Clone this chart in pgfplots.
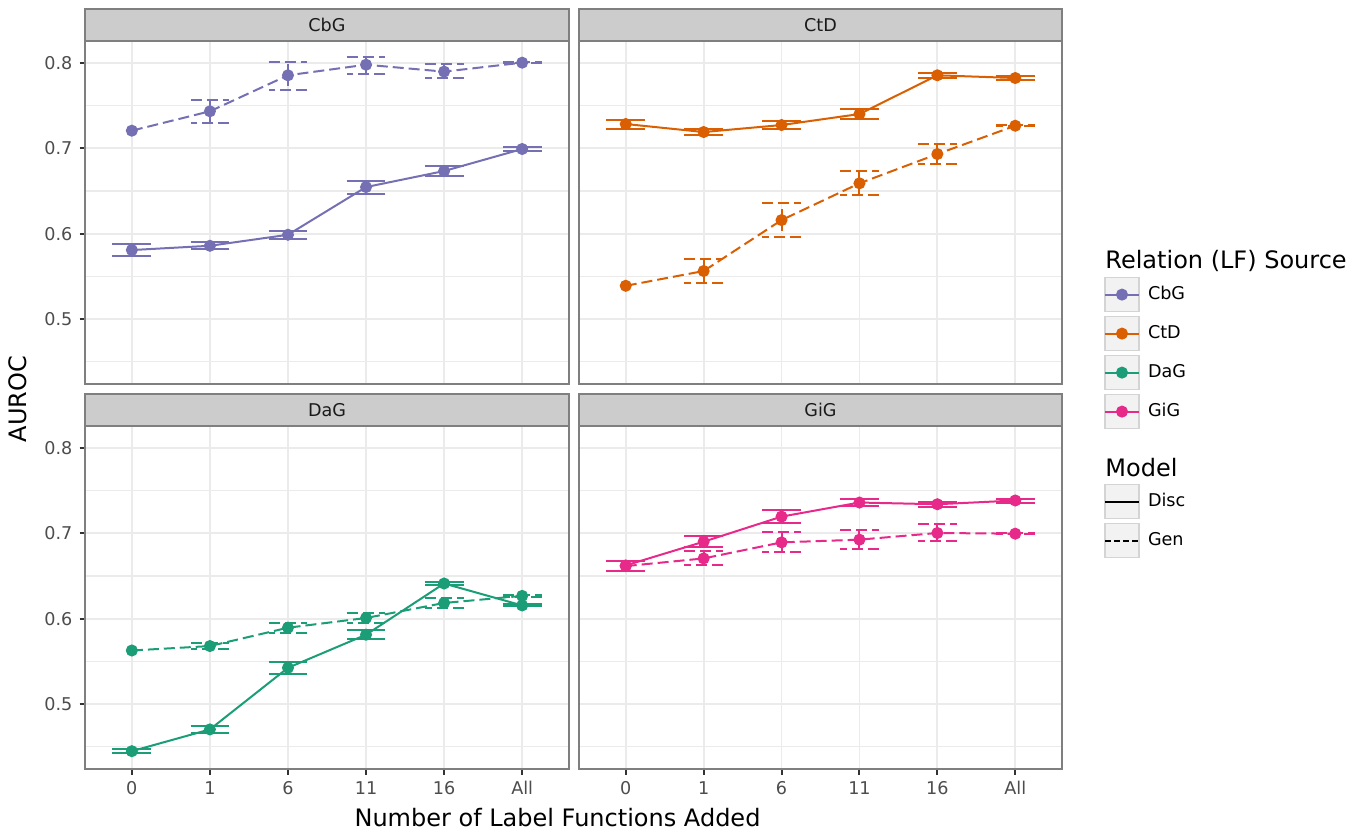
\documentclass[border=0pt]{standalone}
\usepackage{pgfplots}
\pgfplotsset{compat=1.18}
\usepackage{fontspec}
\setmainfont{DejaVu Sans}
\definecolor{cbg}{HTML}{7570B3}
\definecolor{ctd}{HTML}{D95F02}
\definecolor{dag}{HTML}{1B9E77}
\definecolor{gig}{HTML}{E7298A}
\definecolor{bordergray}{HTML}{7F7F7F}
\definecolor{stripgray}{HTML}{CCCCCC}
\definecolor{gridgray}{HTML}{EBEBEB}
\definecolor{ticklab}{HTML}{4D4D4D}
\definecolor{tickcol}{HTML}{333333}
\definecolor{keyfill}{HTML}{F2F2F2}
\definecolor{keyborder}{HTML}{D4D4D4}
\definecolor{striptext}{HTML}{1A1A1A}

\pgfplotsset{
  panel/.style={
    scale only axis, width=242pt, height=171.5pt,
    anchor=north west,
    xmin=0.4, xmax=6.6, ymin=0.4238, ymax=0.8258,
    xtick={1,2,3,4,5,6}, xticklabels={0,1,6,11,16,All},
    ytick={0.5,0.6,0.7,0.8},
    minor ytick={0.45,0.55,0.65,0.75},
    yticklabel style={/pgf/number format/fixed, /pgf/number format/precision=1},
    /pgf/number format/assume math mode=true,
    xmajorgrids, ymajorgrids, yminorgrids,
    major grid style={draw=gridgray, line width=0.9pt},
    minor grid style={draw=gridgray, line width=0.55pt},
    axis line style={draw=bordergray, line width=1pt},
    tick align=outside, major tick length=2.75pt, minor tick length=0pt,
    tick style={draw=tickcol, line width=1pt},
    xtick pos=bottom, ytick pos=left,
    tick label style={font=\fontsize{8.8}{10}\selectfont, text=ticklab},
    clip=false,
    legend cell align=left,
  },
  notx/.style={xticklabels={}, xtick style={draw=none}},
  noty/.style={yticklabels={}, ytick style={draw=none}},
  disc/.style={draw=#1, line width=1pt, solid, mark=*, mark size=2.5pt,
    mark options={solid, draw=none, fill=#1}},
  gen/.style={draw=#1, line width=1pt, dash pattern=on 5.5pt off 2.5pt, mark=*, mark size=2.5pt,
    mark options={solid, draw=none, fill=#1}},
  discerr/.style={draw=none, mark=none,
    /pgfplots/error bars/y dir=both, /pgfplots/error bars/y explicit, /pgfplots/error bars/error mark=|,
    /pgfplots/error bars/error bar style={draw=#1, line width=1pt, solid},
    /pgfplots/error bars/error mark options={draw=#1, line width=1pt, solid, mark size=9.7pt}},
  generr/.style={draw=none, mark=none,
    /pgfplots/error bars/y dir=both, /pgfplots/error bars/y explicit, /pgfplots/error bars/error mark=|,
    /pgfplots/error bars/error bar style={draw=#1, line width=1pt, dash pattern=on 5.5pt off 2.5pt},
    /pgfplots/error bars/error mark options={draw=#1, line width=1pt, dash pattern=on 5.5pt off 2.5pt, mark size=9.7pt}},
  keybox/.style={legend image code/.code={
     \draw[fill=keyfill, draw=keyborder, line width=0.6pt, solid] (0pt,-8.5pt) rectangle (17pt,8.5pt);
     \draw[mark repeat=2, mark phase=2] plot coordinates {(0pt,0pt) (8.5pt,0pt) (17pt,0pt)};
  }},
  keylegend/.style={legend style={draw=none, fill=none, inner sep=0pt, outer sep=0pt,
     row sep=1.9pt, column sep=4pt, font=\fontsize{8.8}{10}\selectfont,
     nodes={inner sep=0pt, anchor=west}}},
}
\newcommand{\strip}[1]{%
  \draw[fill=stripgray, draw=bordergray, line width=1pt] (rel axis cs:0,1) rectangle ([yshift=16pt]rel axis cs:1,1);
  \node[font=\fontsize{8.8}{10}\selectfont, text=striptext] at ([yshift=8pt]rel axis cs:0.5,1) {#1};}

\begin{document}
\begin{tikzpicture}
\useasboundingbox (0pt,0pt) rectangle (682pt,-417pt);

% ---------- CbG ----------
\begin{axis}[panel, notx, at={(42.5pt,-20.5pt)}]
\addplot[forget plot, generr=cbg] coordinates {
 (2,0.7434) += (0,0.0132) -= (0,0.0134)
 (3,0.7856) += (0,0.0160) -= (0,0.0172)
 (4,0.7980) += (0,0.0094) -= (0,0.0105)
 (5,0.7899) += (0,0.0089) -= (0,0.0079)
 (6,0.8004) += (0,0.0008) -= (0,0.0008)};
\addplot[forget plot, discerr=cbg] coordinates {
 (1,0.5808) += (0,0.0070) -= (0,0.0074)
 (2,0.5858) += (0,0.0043) -= (0,0.0035)
 (3,0.5987) += (0,0.0047) -= (0,0.0050)
 (4,0.6546) += (0,0.0074) -= (0,0.0086)
 (5,0.6734) += (0,0.0055) -= (0,0.0055)
 (6,0.6992) += (0,0.0027) -= (0,0.0027)};
\addplot[forget plot, gen=cbg] coordinates {(1,0.7207) (2,0.7434) (3,0.7856) (4,0.7980) (5,0.7899) (6,0.8004)};
\addplot[forget plot, disc=cbg] coordinates {(1,0.5808) (2,0.5858) (3,0.5987) (4,0.6546) (5,0.6734) (6,0.6992)};
\strip{CbG}
\end{axis}

% ---------- CtD ----------
\begin{axis}[panel, notx, noty, at={(289.5pt,-20.5pt)}, width=241.5pt, keylegend,
  legend style={at={(1.08696,0.31195)}, anchor=north west}]
\addlegendimage{keybox, draw=cbg, line width=1pt, mark=*, mark size=2.5pt, mark options={solid, draw=none, fill=cbg}}
\addlegendentry{CbG}
\addlegendimage{keybox, draw=ctd, line width=1pt, mark=*, mark size=2.5pt, mark options={solid, draw=none, fill=ctd}}
\addlegendentry{CtD}
\addlegendimage{keybox, draw=dag, line width=1pt, mark=*, mark size=2.5pt, mark options={solid, draw=none, fill=dag}}
\addlegendentry{DaG}
\addlegendimage{keybox, draw=gig, line width=1pt, mark=*, mark size=2.5pt, mark options={solid, draw=none, fill=gig}}
\addlegendentry{GiG}
\addplot[forget plot, discerr=ctd] coordinates {
 (1,0.7285) += (0,0.0051) -= (0,0.0055)
 (2,0.7191) += (0,0.0031) -= (0,0.0035)
 (3,0.7273) += (0,0.0047) -= (0,0.0050)
 (4,0.7402) += (0,0.0059) -= (0,0.0062)
 (5,0.7856) += (0,0.0024) -= (0,0.0028)
 (6,0.7824) += (0,0.0024) -= (0,0.0023)};
\addplot[forget plot, generr=ctd] coordinates {
 (2,0.5562) += (0,0.0137) -= (0,0.0137)
 (3,0.6159) += (0,0.0203) -= (0,0.0202)
 (4,0.6590) += (0,0.0144) -= (0,0.0141)
 (5,0.6933) += (0,0.0114) -= (0,0.0117)
 (6,0.7265) += (0,0.0008) -= (0,0.0008)};
\addplot[forget plot, disc=ctd] coordinates {(1,0.7285) (2,0.7191) (3,0.7273) (4,0.7402) (5,0.7856) (6,0.7824)};
\addplot[forget plot, gen=ctd] coordinates {(1,0.5389) (2,0.5562) (3,0.6159) (4,0.6590) (5,0.6933) (6,0.7265)};
\strip{CtD}
\end{axis}

% ---------- DaG ----------
\begin{axis}[panel, at={(42.5pt,-213pt)}]
\addplot[forget plot, generr=dag] coordinates {
 (2,0.5679) += (0,0.0031) -= (0,0.0032)
 (3,0.5894) += (0,0.0051) -= (0,0.0062)
 (4,0.6008) += (0,0.0055) -= (0,0.0063)
 (5,0.6184) += (0,0.0059) -= (0,0.0063)
 (6,0.6267) += (0,0.0008) -= (0,0.0008)};
\addplot[forget plot, discerr=dag] coordinates {
 (1,0.4447) += (0,0.0027) -= (0,0.0027)
 (2,0.4702) += (0,0.0043) -= (0,0.0043)
 (3,0.5424) += (0,0.0074) -= (0,0.0068)
 (4,0.5812) += (0,0.0055) -= (0,0.0055)
 (5,0.6412) += (0,0.0012) -= (0,0.0012)
 (6,0.6155) += (0,0.0021) -= (0,0.0010)};
\addplot[forget plot, gen=dag] coordinates {(1,0.5627) (2,0.5679) (3,0.5894) (4,0.6008) (5,0.6184) (6,0.6267)};
\addplot[forget plot, disc=dag] coordinates {(1,0.4447) (2,0.4702) (3,0.5424) (4,0.5812) (5,0.6412) (6,0.6155)};
\strip{DaG}
\end{axis}

% ---------- GiG ----------
\begin{axis}[panel, noty, at={(289.5pt,-213pt)}, width=241.5pt, keylegend,
  legend style={at={(1.08696,0.8309)}, anchor=north west}]
\addlegendimage{keybox, draw=black, line width=1pt, solid}
\addlegendentry{Disc}
\addlegendimage{keybox, draw=black, line width=1pt, dash pattern=on 3pt off 1.5pt}
\addlegendentry{Gen}
\addplot[forget plot, generr=gig] coordinates {
 (2,0.6706) += (0,0.0086) -= (0,0.0082)
 (3,0.6894) += (0,0.0121) -= (0,0.0118)
 (4,0.6926) += (0,0.0109) -= (0,0.0114)
 (5,0.7004) += (0,0.0102) -= (0,0.0098)
 (6,0.6996) += (0,0.0008) -= (0,0.0008)};
\addplot[forget plot, discerr=gig] coordinates {
 (1,0.6624) += (0,0.0046) -= (0,0.0067)
 (2,0.6902) += (0,0.0063) -= (0,0.0063)
 (3,0.7196) += (0,0.0074) -= (0,0.0074)
 (4,0.7361) += (0,0.0039) -= (0,0.0043)
 (5,0.7341) += (0,0.0027) -= (0,0.0027)
 (6,0.7385) += (0,0.0023) -= (0,0.0024)};
\addplot[forget plot, gen=gig] coordinates {(1,0.6616) (2,0.6706) (3,0.6894) (4,0.6926) (5,0.7004) (6,0.6996)};
\addplot[forget plot, disc=gig] coordinates {(1,0.6624) (2,0.6902) (3,0.7196) (4,0.7361) (5,0.7341) (6,0.7385)};
\strip{GiG}
\end{axis}

% ---------- titles ----------
\node[font=\fontsize{12}{14}\selectfont, anchor=base, inner sep=0pt] at (278.75pt,-413pt) {Number of Label Functions Added};
\node[font=\fontsize{12}{14}\selectfont, rotate=90, inner sep=0pt] at (9pt,-199.5pt) {AUROC};
\node[font=\fontsize{12}{14}\selectfont, anchor=base west, inner sep=0pt] at (552.5pt,-134pt) {Relation (LF) Source};
\node[font=\fontsize{12}{14}\selectfont, anchor=base west, inner sep=0pt] at (552.5pt,-238pt) {Model};
\end{tikzpicture}
\end{document}
